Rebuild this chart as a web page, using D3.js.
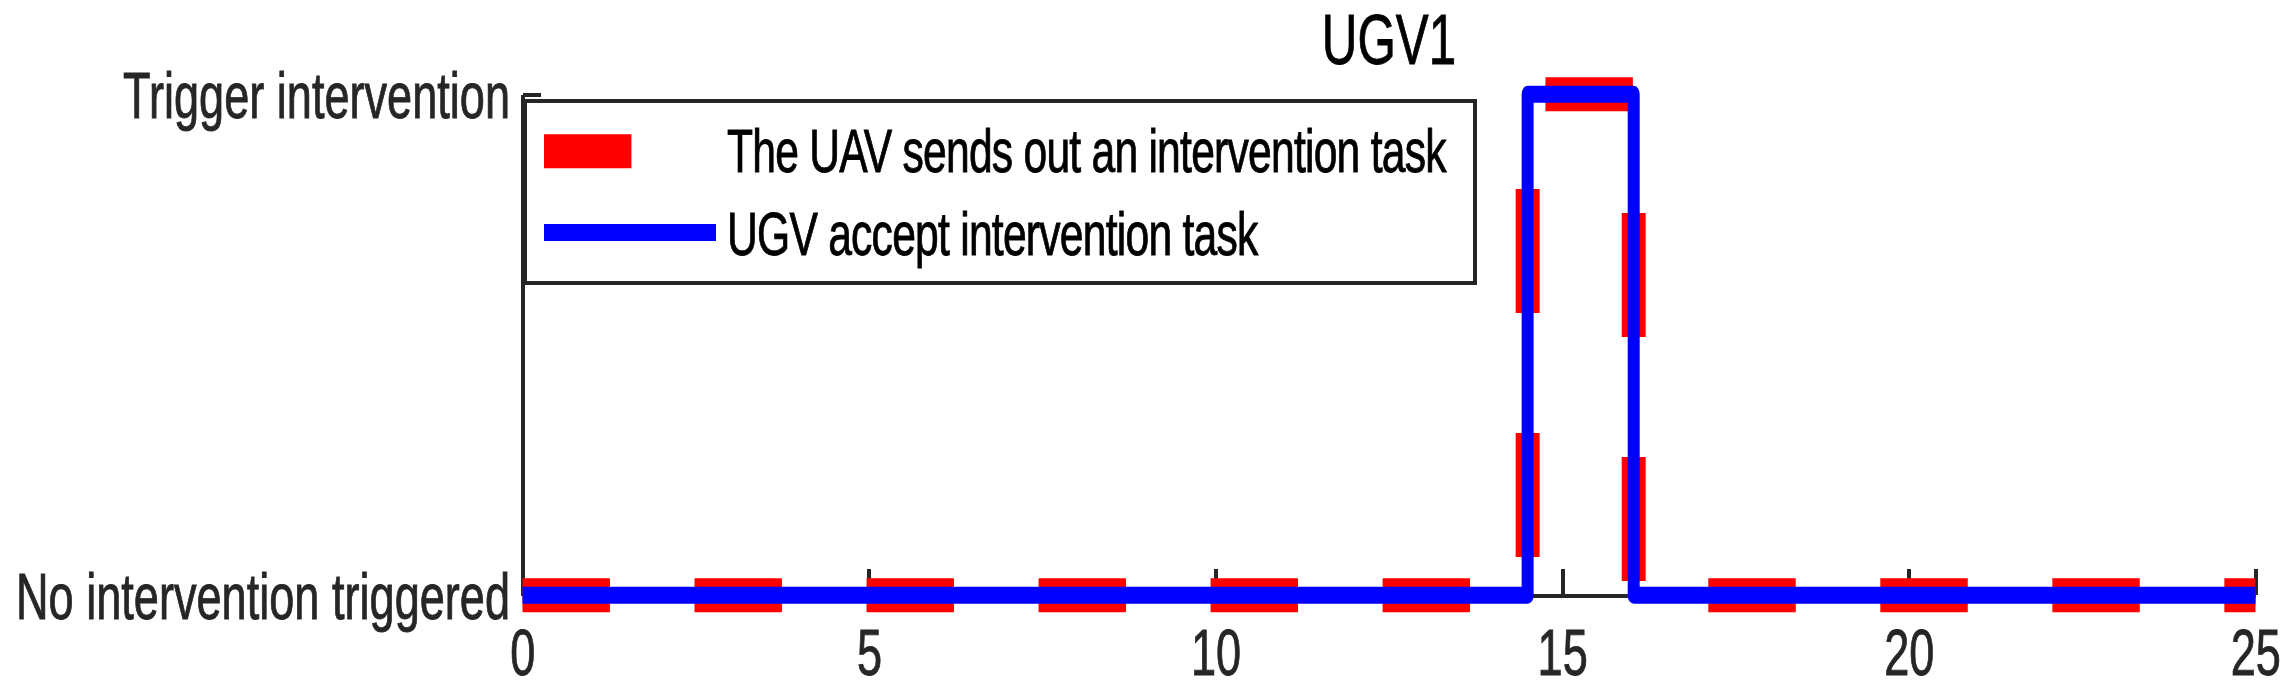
<!DOCTYPE html>
<html>
<head>
<meta charset="utf-8">
<script src="https://cdn.jsdelivr.net/npm/d3@7"></script>
<style>
  body { margin: 0; background: #fff; }
  text { font-family: "Liberation Sans", Arial, sans-serif; }
</style>
</head>
<body>
<script>
// switching instants (s) and signal states, drawn as steps
const times = [0, 14.5, 16.03, 25];
const uavSent = [0, 1, 0, 0];
const ugvAccept = [0, 1, 0, 0];

const xTicks = [0, 5, 10, 15, 20, 25];
const yTicks = [0, 1];
const yTickLabels = ['No intervention triggered', 'Trigger intervention'];
const seriesNames = ['The UAV sends out an intervention task', 'UGV accept intervention task'];
const chartTitle = 'UGV1';

const W = 2291, H = 693;
const sx = 0.705; // the figure is squeezed horizontally

const svg = d3.select('body').append('svg')
    .attr('width', W).attr('height', H);

const g = svg.append('g').attr('transform', `scale(${sx},1)`);

const x = d3.scaleLinear().domain([0, 25]).range([522.5 / sx, 2255.5 / sx]);
const y = d3.scaleLinear().domain([0, 1]).range([595.2, 94.2]);

// axes
const xAxis = g.append('g')
    .attr('transform', `translate(0,${y(0)})`)
    .call(d3.axisBottom(x).tickValues(xTicks).tickFormat(d3.format('d'))
        .tickSize(-26).tickSizeOuter(0).tickPadding(34.6));

const yAxis = g.append('g')
    .attr('transform', `translate(${x(0)},0)`)
    .call(d3.axisLeft(y).tickValues(yTicks).tickFormat((d, i) => yTickLabels[i])
        .tickSize(-26).tickSizeOuter(0).tickPadding(17.7));

[xAxis, yAxis].forEach(a => {
    a.attr('font-size', null).attr('font-family', null);
    a.selectAll('path, line')
        .attr('stroke', '#262626')
        .attr('stroke-width', 4)
        .attr('vector-effect', 'non-scaling-stroke')
        .attr('shape-rendering', 'crispEdges');
    a.selectAll('text')
        .attr('fill', '#262626')
        .attr('stroke', '#262626')
        .attr('stroke-width', 0.9)
        .style('font-size', '64px');
});
yAxis.selectAll('text').attr('dy', '0.36em');

// title
g.append('text')
    .attr('x', (x(0) + x(25)) / 2)
    .attr('y', 64)
    .attr('text-anchor', 'middle')
    .style('font-size', '70px')
    .attr('fill', '#000')
    .attr('stroke', '#000')
    .attr('stroke-width', 0.9)
    .text(chartTitle);

// data lines
const line = d3.line()
    .x(d => x(d[0]))
    .y(d => y(d[1]))
    .curve(d3.curveStepAfter);

g.append('path')
    .datum(times.map((t, i) => [t, uavSent[i]]))
    .attr('d', line)
    .attr('fill', 'none')
    .attr('stroke', '#ff0000')
    .attr('stroke-width', 34)
    .attr('stroke-dasharray', '124 120')
    .attr('stroke-linecap', 'butt');

g.append('path')
    .datum(times.map((t, i) => [t, ugvAccept[i]]))
    .attr('d', line)
    .attr('fill', 'none')
    .attr('stroke', '#0000ff')
    .attr('stroke-width', 17)
    .attr('stroke-linejoin', 'round')
    .attr('stroke-linecap', 'butt');

// legend
const leg = g.append('g');
leg.append('rect')
    .attr('x', 524.6 / sx).attr('y', 100.5)
    .attr('width', (1475 - 524.6) / sx).attr('height', 182.5)
    .attr('fill', '#fff')
    .attr('stroke', '#262626')
    .attr('stroke-width', 4)
    .attr('vector-effect', 'non-scaling-stroke')
    .attr('shape-rendering', 'crispEdges');

const legStyles = [
    { color: '#ff0000', width: 34, dash: '124 120' },
    { color: '#0000ff', width: 17, dash: null }
];
const rowY = [151.3, 232.4];
const textY = [171.7, 255];

seriesNames.forEach((name, i) => {
    leg.append('line')
        .attr('x1', 544 / sx).attr('x2', 716 / sx)
        .attr('y1', rowY[i]).attr('y2', rowY[i])
        .attr('stroke', legStyles[i].color)
        .attr('stroke-width', legStyles[i].width)
        .attr('stroke-dasharray', legStyles[i].dash);
    leg.append('text')
        .attr('x', 727 / sx).attr('y', textY[i])
        .style('font-size', '60.5px')
        .style('letter-spacing', '-1.1px')
        .attr('fill', '#000')
        .attr('stroke', '#000')
        .attr('stroke-width', 0.9)
        .text(name);
});
</script>
</body>
</html>
